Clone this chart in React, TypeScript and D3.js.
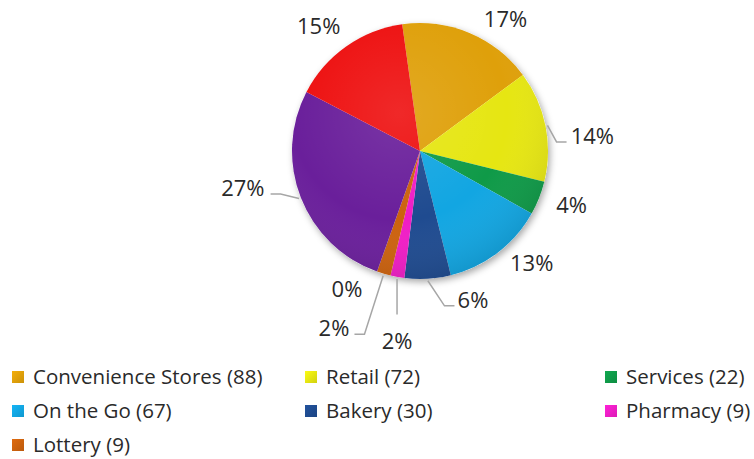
import React from "react";
import * as d3 from "d3";

// ---- data ----
const categories = [
  "Convenience Stores",
  "Retail",
  "Services",
  "On the Go",
  "Bakery",
  "Pharmacy",
  "Lottery",
  "Other",
  "Category 9",
  "Category 10",
];
const values = [88, 72, 22, 67, 30, 9, 9, 0, 140, 78];
const colors = [
  "#DFA00A",
  "#E6E612",
  "#0F9A48",
  "#12A6E2",
  "#1F4B90",
  "#F01EC6",
  "#CC620E",
  "#8A8A8A",
  "#6A1F9B",
  "#EE1111",
];
const legendCount = 7; // only the first seven entries fit in the legend

// label placement (polar, relative to pie centre) and leader-line style
const labelAngles = [33, 85, 109.6, 135, 160.4, 186.9, 205.9, 207.9, 258.2, 321];
const labelDists = [157, 173, 161, 158, 158, 191, 197, 156, 181, 161];
const leaderKinds = ["none", "side", "none", "none", "side", "top", "side", "none", "side", "none"];

const W = 754;
const H = 459;
const cx = 420;
const cy = 151;
const R = 128;
const startDeg = -8;

export default function App() {
  const total = d3.sum(values);
  const pie = d3
    .pie<number>()
    .sort(null)
    .value((d) => d)
    .startAngle((startDeg * Math.PI) / 180)
    .endAngle(((startDeg + 360) * Math.PI) / 180);
  const arcs = pie(values);
  const arcGen = d3.arc<d3.PieArcDatum<number>>().innerRadius(0).outerRadius(R);

  const labelFs = 22;
  const legendFs = 20.5;
  const textColor = "#2a2a2a";
  const font = "'Open Sans', 'DejaVu Sans', sans-serif";

  const polar = (deg: number, r: number) => {
    const a = (deg * Math.PI) / 180;
    return [cx + r * Math.sin(a), cy - r * Math.cos(a)];
  };

  const labels = arcs.map((a, i) => {
    const [lx, ly] = polar(labelAngles[i], labelDists[i]);
    const text = Math.round((values[i] / total) * 100) + "%";
    const w = text.length * 0.6 * labelFs * 1.1;
    const midDeg = (((a.startAngle + a.endAngle) / 2) * 180) / Math.PI;
    const [sx, sy] = polar(midDeg, R + 2);
    let pts: number[][] | null = null;
    if (leaderKinds[i] === "side") {
      const right = lx > cx;
      const ex = right ? lx - w / 2 - 4 : lx + w / 2 + 6;
      const ey = ly + 6;
      const elx = right ? ex - 10 : ex + 10;
      pts = [
        [sx, sy],
        [elx, ey],
        [ex, ey],
      ];
    } else if (leaderKinds[i] === "top") {
      pts = [
        [sx, sy],
        [sx, ly - 26],
      ];
    }
    return { lx, ly, text, pts };
  });

  const cols = [12, 305, 605];
  const rows = [377, 411, 445];
  const legendItems = categories.slice(0, legendCount).map((c, i) => ({
    name: `${c} (${values[i]})`,
    color: colors[i],
    x: cols[i % 3],
    y: rows[Math.floor(i / 3)],
  }));

  const line = d3.line();

  return (
    <svg
      width={W}
      height={H}
      style={{ position: "absolute", left: 0, top: 0, background: "#fff" }}
      fontFamily={font}
    >
      <defs>
        <filter id="shadow" x="-20%" y="-20%" width="140%" height="140%">
          <feDropShadow dx="2" dy="3" stdDeviation="3.5" floodColor="#000" floodOpacity="0.35" />
        </filter>
        <radialGradient id="shade" cx="0.42" cy="0.35" r="0.7">
          <stop offset="0" stopColor="#fff" stopOpacity="0.1" />
          <stop offset="0.6" stopColor="#fff" stopOpacity="0" />
          <stop offset="1" stopColor="#000" stopOpacity="0.12" />
        </radialGradient>
        {colors.map((c, i) => (
          <linearGradient key={i} id={`lg${i}`} x1="0" y1="0" x2="1" y2="1">
            <stop offset="0" stopColor={d3.color(c)!.brighter(0.25).formatHex()} />
            <stop offset="1" stopColor={d3.color(c)!.darker(0.25).formatHex()} />
          </linearGradient>
        ))}
      </defs>
      <g transform={`translate(${cx},${cy})`}>
        <circle r={R} fill="#fff" filter="url(#shadow)" />
        {arcs.map((a, i) =>
          a.endAngle - a.startAngle > 0 ? <path key={i} d={arcGen(a) || ""} fill={colors[i]} /> : null
        )}
        <circle r={R} fill="url(#shade)" />
      </g>
      {labels.map((l, i) => (
        <g key={i}>
          {l.pts && (
            <path d={line(l.pts as [number, number][]) || ""} fill="none" stroke="#a6a6a6" strokeWidth={1.5} />
          )}
          <text
            x={l.lx}
            y={l.ly + 0.36 * labelFs}
            textAnchor="middle"
            fontSize={labelFs}
            fill={textColor}
          >
            {l.text}
          </text>
        </g>
      ))}
      {legendItems.map((it, i) => (
        <g key={i}>
          <rect x={it.x} y={it.y - 6} width={12} height={12} fill={`url(#lg${i})`} />
          <text x={it.x + 21} y={it.y + 0.36 * legendFs} fontSize={legendFs} fill={textColor}>
            {it.name}
          </text>
        </g>
      ))}
    </svg>
  );
}
